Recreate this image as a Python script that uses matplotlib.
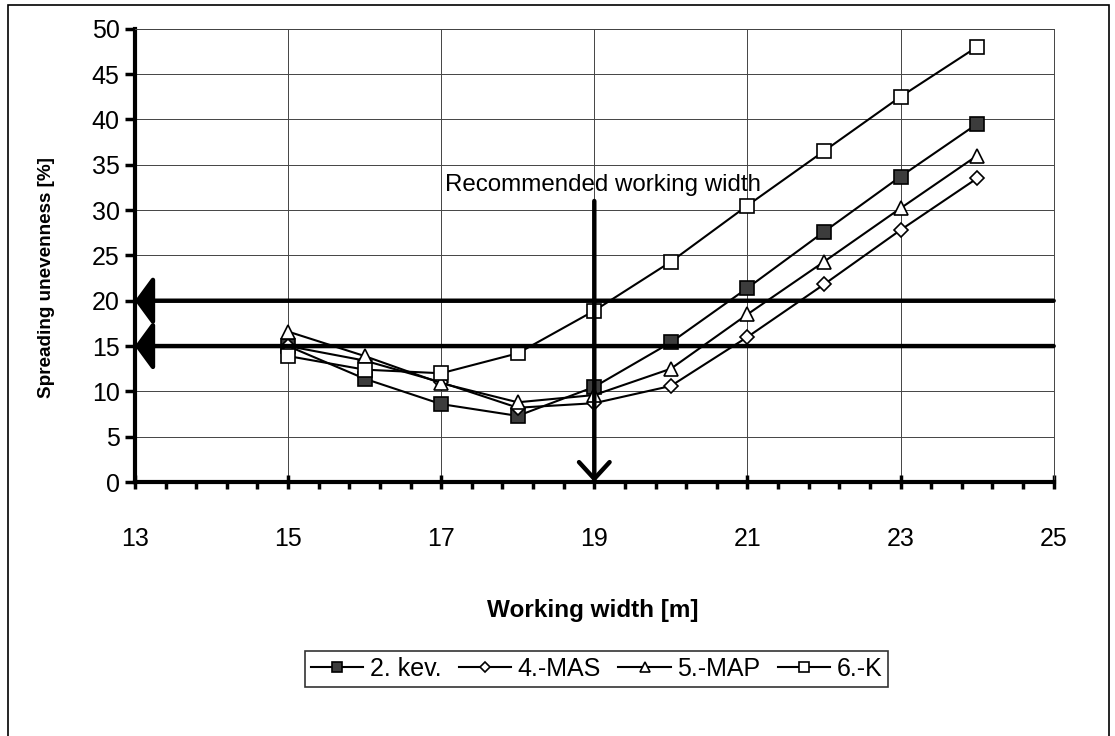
import matplotlib
matplotlib.use("Agg")
import matplotlib.pyplot as plt
from matplotlib.patches import Rectangle
from matplotlib.ticker import MultipleLocator

plt.rcParams['font.family'] = ['Liberation Sans', 'DejaVu Sans']

# working width [m] and spreading unevenness [%] per spreader setting
width = [15, 16, 17, 18, 19, 20, 21, 22, 23, 24]
kev2 = [15.0, 11.4, 8.6, 7.3, 10.5, 15.4, 21.4, 27.6, 33.7, 39.5]
mas4 = [15.0, 13.4, 11.0, 8.2, 8.7, 10.6, 16.0, 21.8, 27.8, 33.5]
map5 = [16.6, 13.9, 10.9, 8.8, 9.6, 12.5, 18.5, 24.3, 30.2, 36.0]
k6 = [13.9, 12.4, 12.0, 14.2, 18.9, 24.3, 30.5, 36.5, 42.5, 48.0]

x_ticks = [13, 15, 17, 19, 21, 23, 25]
limits = [20, 15]
recommended = 19
recommended_top = 31

fig = plt.figure(figsize=(11.15, 7.36), dpi=100)
ax = fig.add_axes([0.121, 0.345, 0.824, 0.616])

ax.set_xlim(13, 25)
ax.set_ylim(0, 50)
ax.set_xticks(x_ticks)
ax.xaxis.set_minor_locator(MultipleLocator(0.4, offset=0.2))
ax.yaxis.set_major_locator(MultipleLocator(5))
ax.grid(True, which='major', color='#444444', linewidth=0.7)
ax.set_axisbelow(True)

for side in ['left', 'bottom']:
    ax.spines[side].set_linewidth(3)
for side in ['top', 'right']:
    ax.spines[side].set_linewidth(0.7)
    ax.spines[side].set_color('#444444')

ax.tick_params(axis='y', which='major', direction='out', length=7, width=2.5,
               labelsize=18, pad=4)
ax.tick_params(axis='x', which='major', direction='inout', length=10, width=2.5,
               labelsize=18, pad=27)
ax.tick_params(axis='x', which='minor', direction='out', length=5, width=2.5)

# limit lines with arrows pointing to the axis
for lv in limits:
    ax.annotate('', xy=(13, lv), xytext=(25, lv), annotation_clip=False,
                arrowprops=dict(arrowstyle='-|>,head_length=0.55,head_width=0.75',
                                lw=3.2, color='black', shrinkA=0, shrinkB=0,
                                mutation_scale=20))

ax.annotate('', xy=(recommended, 0), xytext=(recommended, recommended_top),
            arrowprops=dict(arrowstyle='->,head_length=0.6,head_width=0.55',
                            lw=3.2, color='black', shrinkA=0, shrinkB=0,
                            mutation_scale=20))
ax.text(17.05, 32.8, 'Recommended working width', fontsize=17.4, va='center', ha='left')

mk = dict(markersize=10, markeredgecolor='black', markeredgewidth=1.2)
ax.plot(width, kev2, '-s', color='black', lw=1.5, markerfacecolor='#3c3c3c',
        label='2. kev.', **mk)
ax.plot(width, mas4, '-D', color='black', lw=1.5, markerfacecolor='white',
        label='4.-MAS', **dict(mk, markersize=7.5))
ax.plot(width, map5, '-^', color='black', lw=1.5, markerfacecolor='white',
        label='5.-MAP', **mk)
ax.plot(width, k6, '-s', color='black', lw=1.5, markerfacecolor='white',
        label='6.-K', **mk)

ax.set_ylabel('Spreading unevenness [%]', fontsize=13.6, fontweight='bold')
ax.yaxis.set_label_coords(-0.087, 0.45)
fig.text(0.532, 1 - 610 / 736, 'Working width [m]', fontsize=17.5,
         fontweight='bold', ha='center', va='center')

leg = fig.legend(loc='center', bbox_to_anchor=(0.535, 1 - 669 / 736), ncol=4,
                 fontsize=18, frameon=True, fancybox=False, edgecolor='black',
                 handlelength=2.1, handletextpad=0.25, columnspacing=0.7,
                 borderpad=0.25, borderaxespad=0, markerscale=0.7)
leg.get_frame().set_linewidth(1.2)

# outer frame of the figure
fig.patches.append(Rectangle((8 / 1115, -0.01), 1101 / 1115, 1.01 - 5 / 736,
                             transform=fig.transFigure, fill=False,
                             edgecolor='black', linewidth=1.2))

fig.savefig('out.png', dpi=100)
